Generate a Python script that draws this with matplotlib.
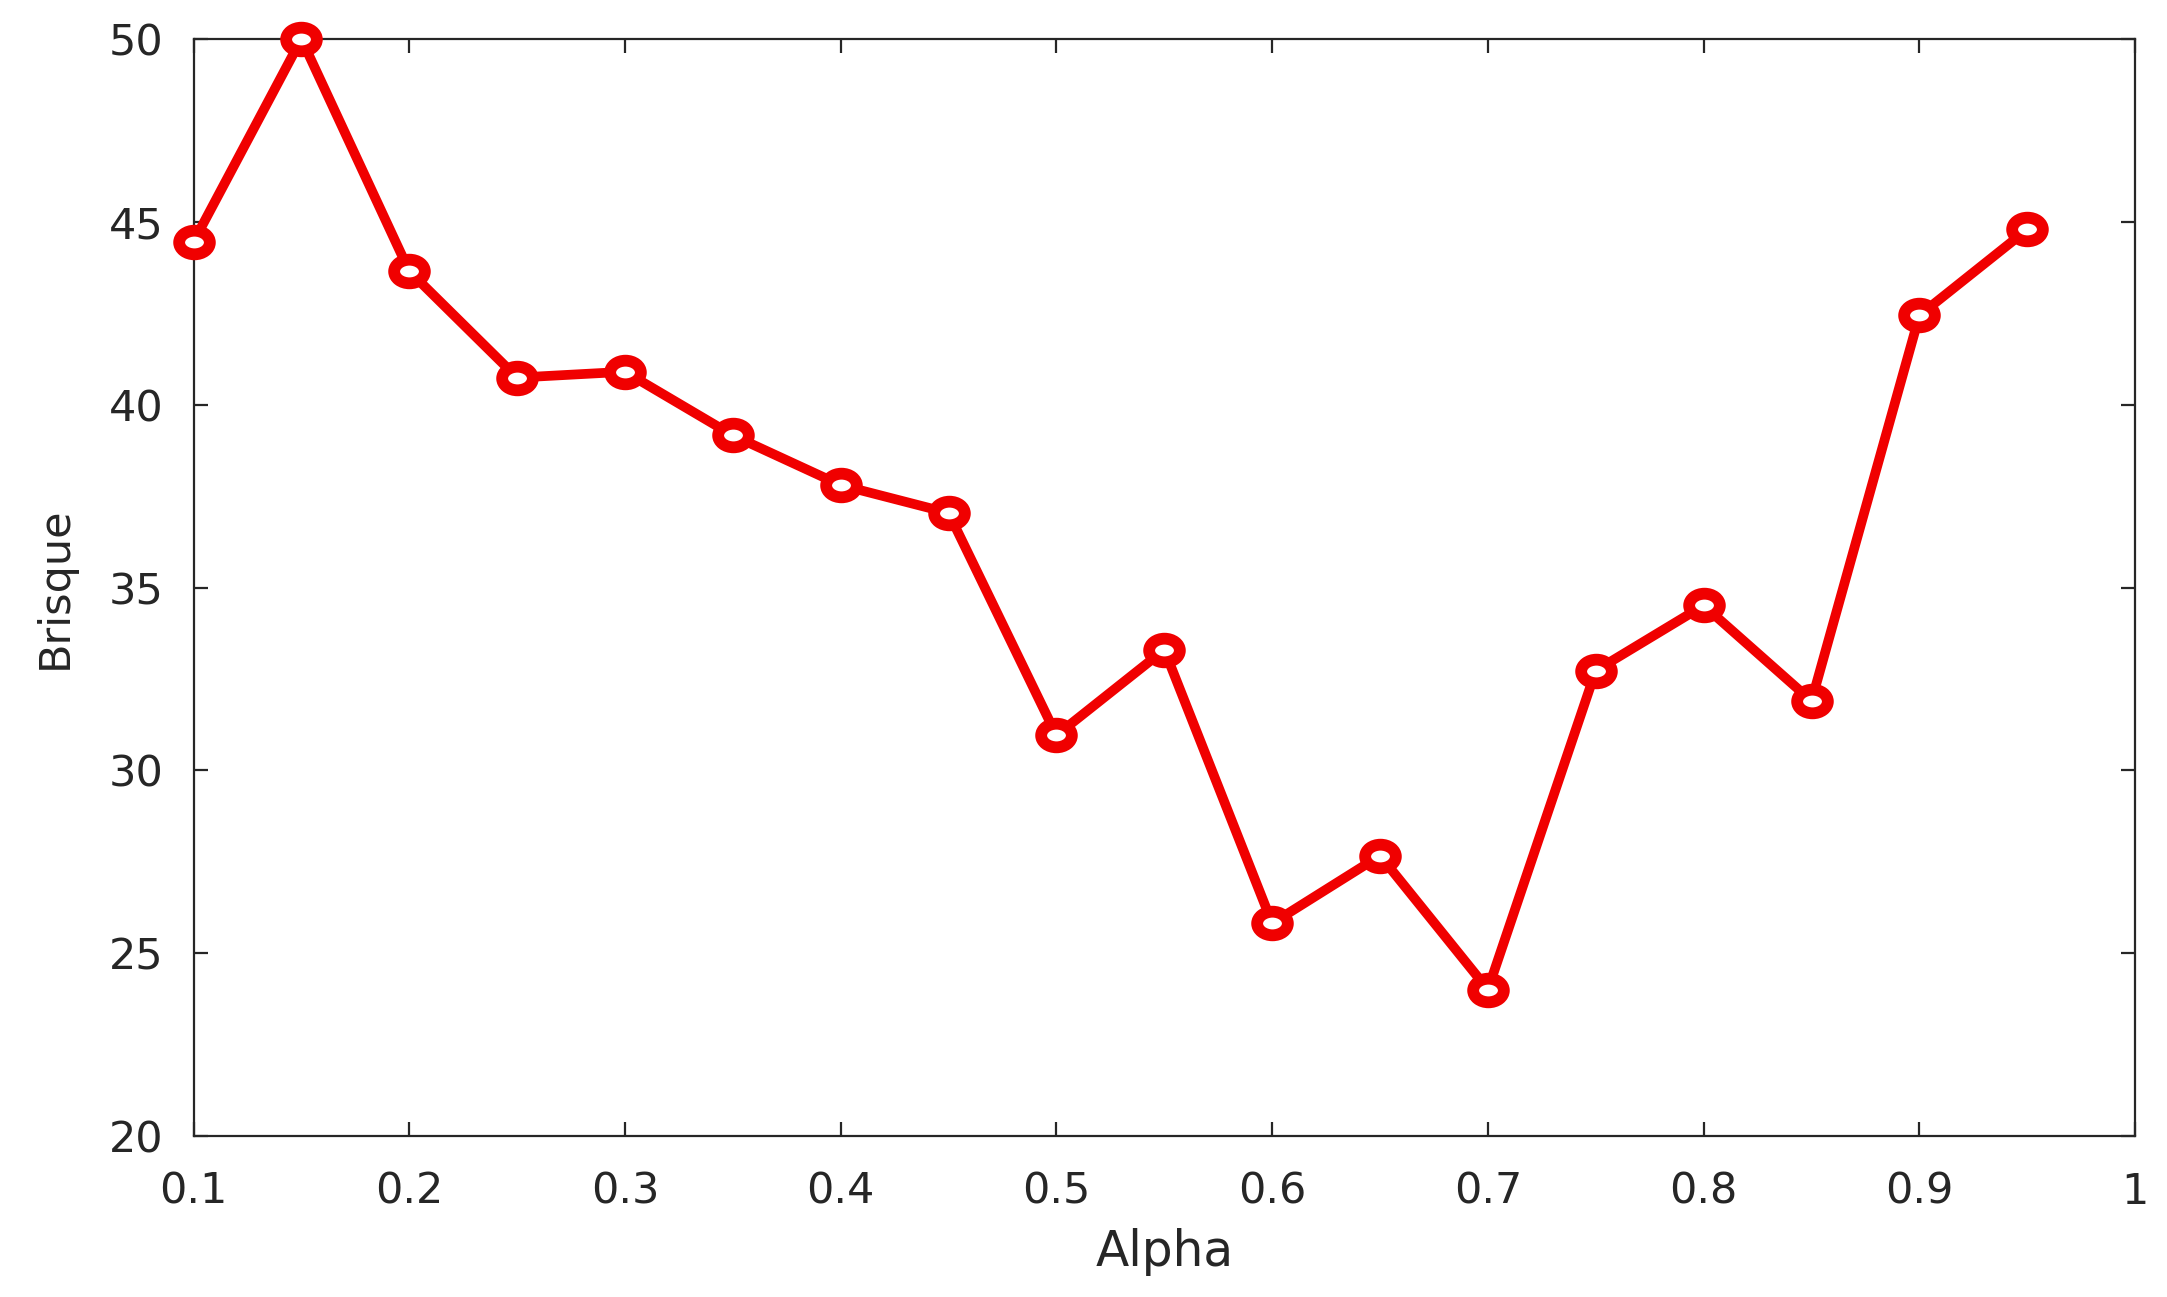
import matplotlib
matplotlib.use("Agg")
import matplotlib.pyplot as plt
from matplotlib.markers import MarkerStyle
from matplotlib.transforms import Affine2D

alpha = [0.10, 0.15, 0.20, 0.25, 0.30, 0.35, 0.40, 0.45, 0.50, 0.55,
         0.60, 0.65, 0.70, 0.75, 0.80, 0.85, 0.90, 0.95]
brisque = [44.45, 50.0, 43.65, 40.74, 40.9, 39.16, 37.8, 37.04, 30.96, 33.3,
           25.82, 27.67, 24.01, 32.73, 34.51, 31.9, 42.44, 44.79]
xticks = [0.1, 0.2, 0.3, 0.4, 0.5, 0.6, 0.7, 0.8, 0.9, 1.0]
xticklabels = ["0.1", "0.2", "0.3", "0.4", "0.5", "0.6", "0.7", "0.8", "0.9", "1"]
yticks = [20, 25, 30, 35, 40, 45, 50]

plt.rcParams['font.family'] = ['DejaVu Sans']

fig = plt.figure(figsize=(21.67, 12.97), dpi=100)
ax = fig.add_axes([0.0893, 0.124, 0.896, 0.846])

red = '#f00000'
mk = MarkerStyle('o', transform=Affine2D().scale(1.3, 1.0))
ax.plot(alpha, brisque, color=red, lw=7, marker=mk, ms=17,
        mfc='white', mec=red, mew=8.5, clip_on=False, zorder=3)

ax.set_xlim(0.1, 1.0)
ax.set_ylim(20, 50)
ax.set_xticks(xticks)
ax.set_xticklabels(xticklabels)
ax.set_yticks(yticks)
ax.tick_params(direction='in', length=10, width=1.6, top=True, right=True,
               labelsize=31, colors='#262626')
ax.tick_params(axis='x', pad=25)
ax.tick_params(axis='y', pad=21.5)
for s in ax.spines.values():
    s.set_linewidth(1.6)
    s.set_color('#262626')

ax.set_xlabel('Alpha', fontsize=35, color='#262626', labelpad=11)
ax.set_ylabel('Brisque', fontsize=31, color='#262626', labelpad=24)

fig.savefig('out.png', dpi=100)
